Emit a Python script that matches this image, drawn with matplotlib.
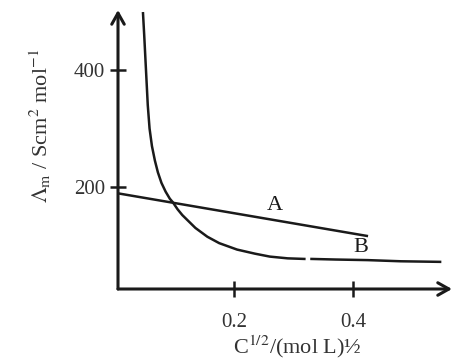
import matplotlib
matplotlib.use("Agg")
import matplotlib.pyplot as plt

# values
line_a_x = [0.0, 0.425]
line_a_y = [190, 116]

curve_b_x1 = [0.047, 0.049, 0.052, 0.055, 0.058, 0.062, 0.067, 0.072, 0.078,
              0.085, 0.092, 0.097, 0.105, 0.113, 0.121, 0.135, 0.155, 0.175,
              0.205, 0.235, 0.26, 0.29, 0.318]
curve_b_y1 = [497, 460, 400, 340, 300, 270, 245, 225, 207,
              192, 180, 174, 162, 152, 144, 130, 115, 104,
              93, 86, 81, 78, 77]
curve_b_x2 = [0.33, 0.37, 0.424, 0.48, 0.546]
curve_b_y2 = [77, 76, 75, 73, 72]

x_ticks = [0.2, 0.4]
x_tick_labels = ["0.2", "0.4"]
y_ticks = [200, 400]
y_tick_labels = ["200", "400"]

plt.rcParams['font.family'] = ['Liberation Serif', 'DejaVu Serif']
plt.rcParams['mathtext.fontset'] = 'stix'

W, H = 474, 363
fig = plt.figure(figsize=(W / 100, H / 100), dpi=100)
fig.patch.set_facecolor('white')
ax = fig.add_axes([118 / W, (H - 289) / H, (452 - 118) / W, (289 - 10) / H])
ax.set_xlim(0.005, 0.566)
ax.set_ylim(25.6, 502.6)

lc = '#1a1a1a'
ax.plot(line_a_x, line_a_y, color=lc, lw=1.8, solid_capstyle='butt')
ax.plot(curve_b_x1, curve_b_y1, color=lc, lw=1.8, solid_joinstyle='round')
ax.plot(curve_b_x2, curve_b_y2, color=lc, lw=1.8)

ax.text(0.269, 169, "A", fontsize=16, ha='center', va='center', color=lc)
ax.text(0.412, 96, "B", fontsize=16, ha='center', va='center', color=lc)

# axes drawn as arrows
for s in ax.spines.values():
    s.set_visible(False)
ax.annotate("", xy=(1, 0), xytext=(0, 0), xycoords='axes fraction',
            arrowprops=dict(arrowstyle='->,head_length=0.8,head_width=0.45', lw=2.2, color=lc,
                            shrinkA=0, shrinkB=0))
ax.annotate("", xy=(0, 1), xytext=(0, 0), xycoords='axes fraction',
            arrowprops=dict(arrowstyle='->,head_length=0.8,head_width=0.45', lw=2.2, color=lc,
                            shrinkA=0, shrinkB=0))

ax.set_xticks(x_ticks)
ax.set_xticklabels(x_tick_labels)
ax.set_yticks(y_ticks)
ax.set_yticklabels(y_tick_labels)
ax.tick_params(axis='both', direction='inout', length=11, width=1.8, color=lc,
               labelsize=15, labelcolor='#333333')
ax.tick_params(axis='x', pad=12)
ax.tick_params(axis='y', pad=4)

fig.text(297 / W, 1 - 347 / H, r"C$^{1/2}$/(mol L)½", fontsize=16,
         ha='center', va='center', color='#333333')
fig.text(40 / W, 1 - 126 / H, r"$\mathrm{\Lambda_m}$ / Scm$^2$ mol$^{-1}$", fontsize=16,
         rotation=90, ha='center', va='center', color='#333333')

fig.savefig("out.png", dpi=100, facecolor='white')
